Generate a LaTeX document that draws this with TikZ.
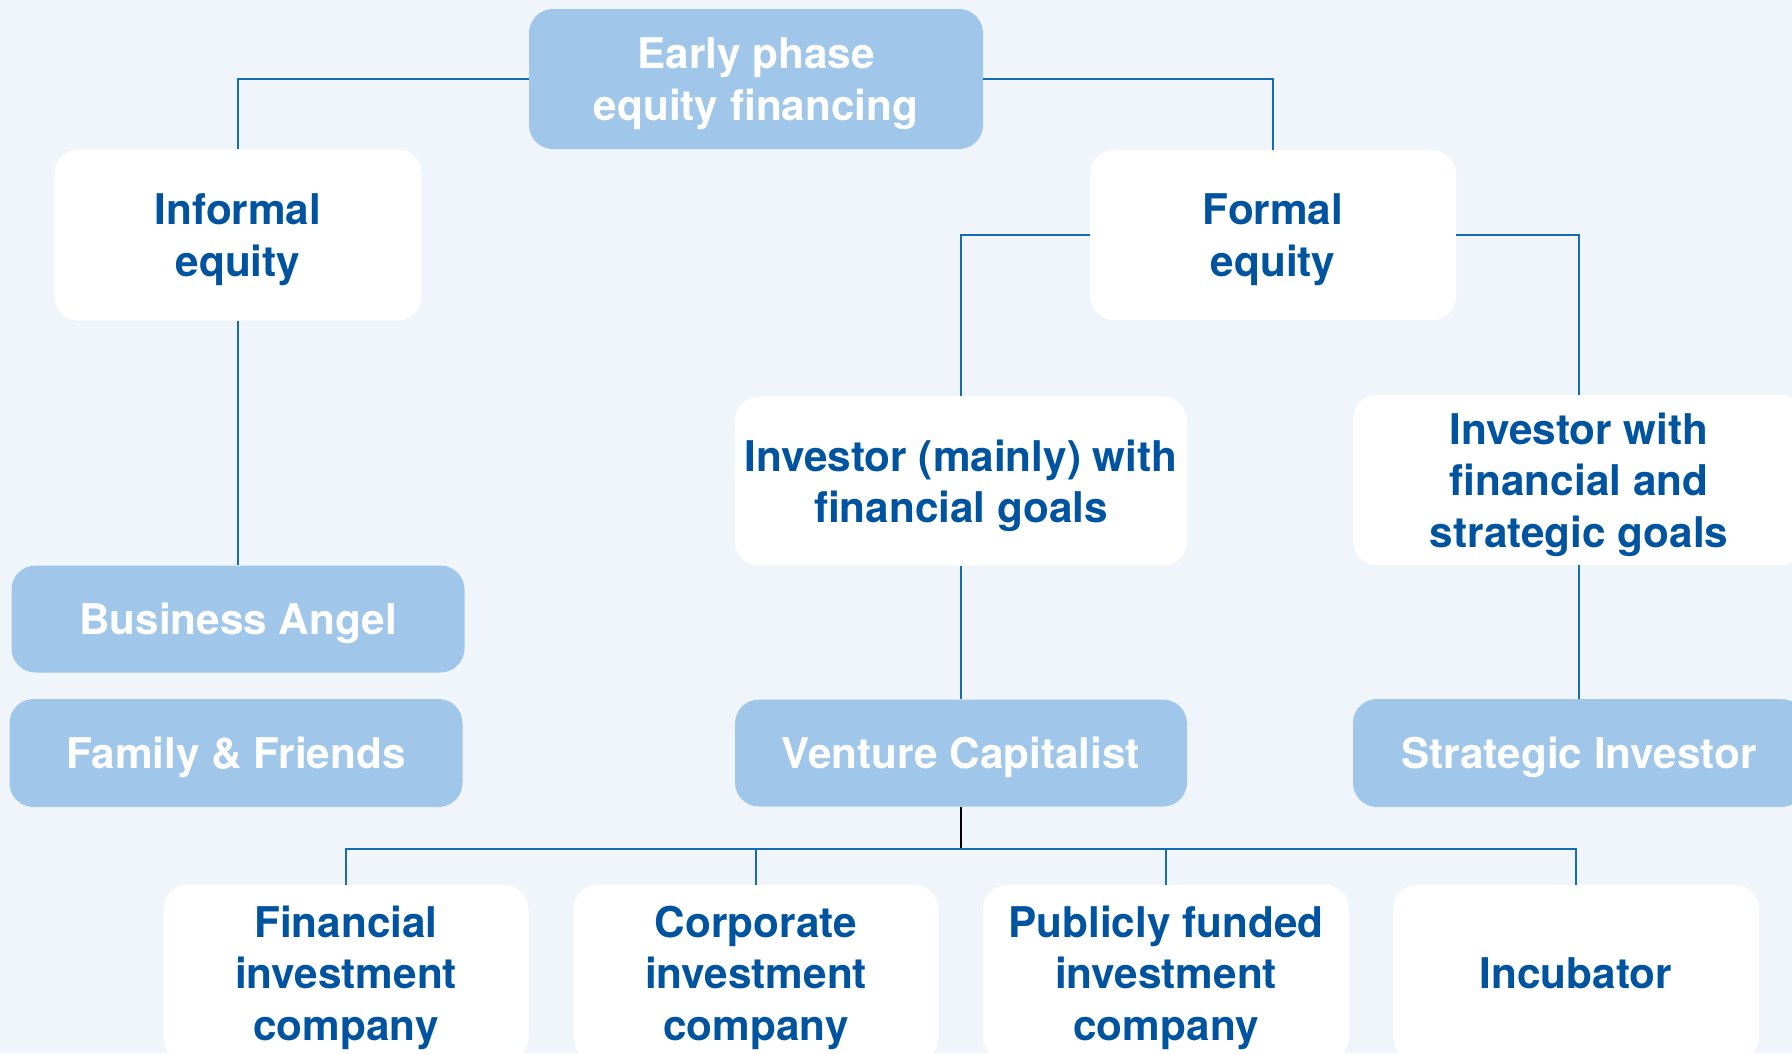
\documentclass[tikz,border=0pt]{standalone}
\usepackage{fontspec}
\setmainfont{TeX Gyre Heros}
\usetikzlibrary{calc}

\definecolor{bgblue}{RGB}{240,245,252}
\definecolor{boxblue}{RGB}{160,198,233}
\definecolor{textblue}{RGB}{0,84,159}
\definecolor{lineblue}{RGB}{22,108,178}

\tikzset{
	base/.style={rounded corners=24pt, align=center, inner sep=0pt,
		font=\fontsize{42.3}{51.5}\selectfont\bfseries, text depth=0pt},
	darkbox/.style={base, fill=boxblue, text=white},
	lightbox/.style={base, fill=white, text=textblue},
	link/.style={draw=lineblue, line width=1.8pt}
}

\begin{document}
\begin{tikzpicture}[x=1pt,y=-1pt]
	\useasboundingbox (0,0) rectangle (1792,1053);
	\fill[bgblue] (0,0) rectangle (1792,1053);

	\node (top) at (756,79) [darkbox, minimum width=454pt, minimum height=140pt] {Early phase\\equity financing};
	\node (inf) at (238,235) [lightbox, minimum width=367pt, minimum height=171pt] {Informal\\equity};
	\node (form) at (1273,235) [lightbox, minimum width=366pt, minimum height=170pt] {Formal\\equity};
	\node (fingoal) at (961,481) [lightbox, minimum width=452pt, minimum height=169pt] {Investor (mainly) with\\financial goals};
	\node (strgoal) at (1579,480) [lightbox, minimum width=452pt, minimum height=170pt] {Investor with\\financial and\\strategic goals};
	\node (ba) at (238,619) [darkbox, minimum width=453pt, minimum height=107pt] {Business Angel};
	\node (ff) at (236,753) [darkbox, minimum width=453pt, minimum height=108pt] {Family \& Friends};
	\node (vc) at (961,753) [darkbox, minimum width=452pt, minimum height=107pt] {Venture Capitalist};
	\node (si) at (1579,753) [darkbox, minimum width=452pt, minimum height=108pt] {Strategic Investor};
	\node (fin) at (346,973) [lightbox, minimum width=365pt, minimum height=176pt] {Financial\\investment\\company};
	\node (corp) at (756,973) [lightbox, minimum width=365pt, minimum height=176pt] {Corporate\\investment\\company};
	\node (pub) at (1166,973) [lightbox, minimum width=366pt, minimum height=176pt] {Publicly funded\\investment\\company};
	\node (inc) at (1576,973) [lightbox, minimum width=366pt, minimum height=176pt] {Incubator};

	\coordinate (bus) at (961,849);

	\draw[link] (top.west) -| (inf.north);
	\draw[link] (top.east) -| (form.north);
	\draw[link] (form.west) -| (fingoal.north);
	\draw[link] (form.east) -| (strgoal.north);
	\draw[link] (inf.south) -- (ba.north);
	\draw[link] (fingoal.south) -- (vc.north);
	\draw[link] (strgoal.south) -- (si.north);
	\draw[black, line width=1.8pt] (vc.south) -- (bus);
	\draw[link] (fin.north) |- (bus) -| (inc.north);
	\draw[link] (corp.north) -- (corp.north |- bus);
	\draw[link] (pub.north) -- (pub.north |- bus);
\end{tikzpicture}
\end{document}
